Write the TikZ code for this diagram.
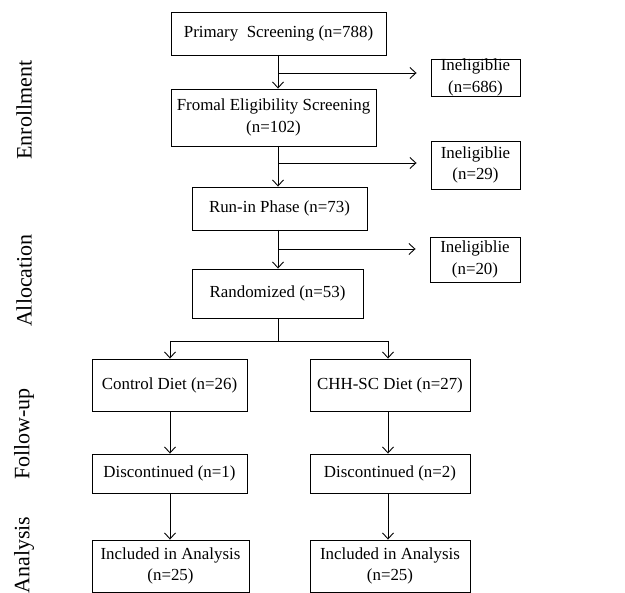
\documentclass[tikz,border=0pt]{standalone}
\usepackage{fontspec}
\setmainfont{Liberation Serif}
\usetikzlibrary{arrows.meta}
\begin{document}
\begin{tikzpicture}[x=1pt,y=-1pt,
  box/.style={draw, line width=0.9pt, rectangle, inner sep=0pt, align=center, font=\fontsize{16.9}{21.7}\selectfont},
  arr/.style={line width=0.9pt, -{Straight Barb[length=6pt,width=11pt,line width=0.9pt]}},
  ln/.style={line width=0.9pt},
  side/.style={rotate=90, font=\fontsize{22}{24}\selectfont}]
\useasboundingbox (0,0) rectangle (625,593);
\node[box, minimum width=215pt, minimum height=43pt] (p1) at (278.5,33.5) {Primary\ \ Screening (n=788)};
\node[box, minimum width=89pt, minimum height=37pt] (i1) at (475.5,77.5) {Ineligiblie\\(n=686)};
\node[box, minimum width=205pt, minimum height=57pt] (p2) at (273.5,117.5) {Fromal Eligibility Screening\\(n=102)};
\node[box, minimum width=89pt, minimum height=48pt] (i2) at (475.5,165) {Ineligiblie\\(n=29)};
\node[box, minimum width=175pt, minimum height=43pt] (p3) at (279.5,208.5) {Run-in Phase (n=73)};
\node[box, minimum width=90pt, minimum height=45pt] (i3) at (475,259.5) {Ineligiblie\\(n=20)};
\node[box, minimum width=171pt, minimum height=49pt] (p4) at (277.5,293.5) {Randomized (n=53)};
\node[box, minimum width=155pt, minimum height=52pt] (c1) at (169.5,385) {Control Diet (n=26)};
\node[box, minimum width=160pt, minimum height=52pt] (d1) at (390,385) {CHH-SC Diet (n=27)};
\node[box, minimum width=155pt, minimum height=39pt] (c2) at (169.5,473.5) {Discontinued (n=1)};
\node[box, minimum width=160pt, minimum height=39pt] (d2) at (390,473.5) {Discontinued (n=2)};
\node[box, minimum width=157pt, minimum height=52pt] (c3) at (170.5,566) {Included in Analysis\\(n=25)};
\node[box, minimum width=160pt, minimum height=52pt] (d3) at (390,566) {Included in Analysis\\(n=25)};
\node[side] (s1) at (24,110) {Enrollment};
\node[side] (s2) at (24,280.5) {Allocation};
\node[side] (s3) at (24,434) {Follow-up};
\node[side] (s4) at (24,555) {Analysis};
% main spine
\coordinate (t1) at (278,55);
\coordinate (b1) at (278,73);
\coordinate (t2) at (278,146);
\coordinate (b2) at (278,163);
\coordinate (t3) at (278,230);
\coordinate (b3) at (278,249);
\draw[arr] (t1) -- (t1 |- p2.north);
\draw[arr] (b1) -- ([xshift=-14pt]b1 -| i1.west);
\draw[arr] (t2) -- (t2 |- p3.north);
\draw[arr] (b2) -- ([xshift=-14pt]b2 -| i2.west);
\draw[arr] (t3) -- (t3 |- p4.north);
\draw[arr] (b3) -- ([xshift=-14pt]b3 -| i3.west);
\coordinate (sp) at (278,341);
\coordinate (sl) at (170,341);
\coordinate (sr) at (388,341);
\draw[ln] (sp |- p4.south) -- (sp);
\draw[ln] (sl) -- (sr);
\draw[arr] (sl) -- (sl |- c1.north);
\draw[arr] (sr) -- (sr |- d1.north);
\draw[arr] (sl |- c1.south) -- (sl |- c2.north);
\draw[arr] (sr |- d1.south) -- (sr |- d2.north);
\draw[arr] (sl |- c2.south) -- (sl |- c3.north);
\draw[arr] (sr |- d2.south) -- (sr |- d3.north);
\end{tikzpicture}
\end{document}
